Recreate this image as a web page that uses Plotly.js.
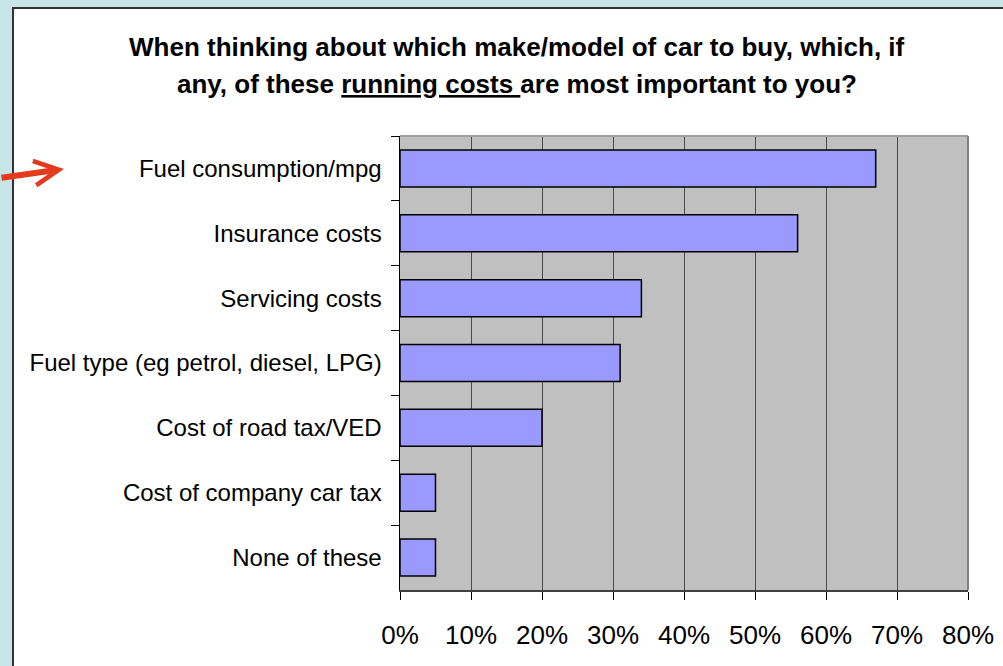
<!DOCTYPE html>
<html>
<head>
<meta charset="utf-8">
<script src="https://cdn.plot.ly/plotly-3.0.1.min.js"></script>
<style>
  html, body { margin: 0; padding: 0; background: #c8e6e8; width: 1003px; height: 666px; overflow: hidden; }
  #frame { position: absolute; left: 12px; top: 7px; width: 1000px; height: 700px; background: #ffffff; border: 2px solid #333333; }
  #chart { position: absolute; left: 0; top: 0; width: 1003px; height: 666px; }
</style>
</head>
<body>
<div id="frame"></div>
<div id="chart"></div>
<script>
const categories = [
  "Fuel consumption/mpg",
  "Insurance costs",
  "Servicing costs",
  "Fuel type (eg petrol, diesel, LPG)",
  "Cost of road tax/VED",
  "Cost of company car tax",
  "None of these"
];
const values = [0.67, 0.56, 0.34, 0.31, 0.20, 0.05, 0.05];
const titleLine1 = "When thinking about which make/model of car to buy, which, if";
const titleLine2 = "any, of these <u>running costs </u>are most important to you?";

const font = "Liberation Sans, Arial, Helvetica, sans-serif";

const trace = {
  type: "bar",
  orientation: "h",
  y: categories,
  x: values,
  marker: { color: "#9999ff", line: { color: "#000000", width: 1.5 } },
  hoverinfo: "skip"
};

const layout = {
  width: 1003,
  height: 666,
  margin: { l: 400, r: 35, t: 136, b: 76, pad: 0 },
  paper_bgcolor: "rgba(0,0,0,0)",
  plot_bgcolor: "#c0c0c0",
  showlegend: false,
  bargap: 0.43,
  font: { family: font, color: "#000000" },
  xaxis: {
    range: [0, 0.8],
    dtick: 0.1,
    tick0: 0,
    tickformat: ".0%",
    showgrid: true,
    gridcolor: "#4a4a4a",
    gridwidth: 1,
    zeroline: false,
    showline: true,
    linecolor: "#404040",
    linewidth: 2,
    ticks: "outside",
    ticklen: 8,
    tickcolor: "#000000",
    tickwidth: 1,
    ticklabelstandoff: 13,
    tickfont: { family: font, size: 26, color: "#000000" }
  },
  yaxis: {
    type: "category",
    categoryorder: "array",
    categoryarray: categories,
    autorange: "reversed",
    tickson: "boundaries",
    showgrid: false,
    zeroline: false,
    showline: true,
    linecolor: "#000000",
    linewidth: 1.5,
    ticks: "outside",
    ticklen: 8,
    tickcolor: "#000000",
    tickwidth: 1,
    ticklabelstandoff: 12,
    tickfont: { family: font, size: 24, color: "#000000" }
  },
  shapes: [
    { type: "line", xref: "paper", yref: "paper", x0: 0, x1: 1, y0: 1, y1: 1, line: { color: "#a0a0a0", width: 2 }, layer: "above" },
    { type: "line", xref: "paper", yref: "paper", x0: 1, x1: 1, y0: 0, y1: 1, line: { color: "#808080", width: 2 }, layer: "above" }
  ],
  annotations: [
    { xref: "paper", yref: "paper", x: (517 - 400) / 568, y: (590 - 47) / 454, xanchor: "center", yanchor: "middle",
      text: "<b>" + titleLine1 + "</b>", showarrow: false, font: { family: font, size: 26, color: "#000000" } },
    { xref: "paper", yref: "paper", x: (517 - 400) / 568, y: (590 - 84) / 454, xanchor: "center", yanchor: "middle",
      text: "<b>" + titleLine2 + "</b>", showarrow: false, font: { family: font, size: 26, color: "#000000" } },
    { xref: "paper", yref: "paper", x: (64 - 400) / 568, y: (590 - 169) / 454, text: "",
      showarrow: true, arrowhead: 5, arrowsize: 0.8, arrowwidth: 6, arrowcolor: "#e53a1e",
      ax: -68, ay: 9, standoff: 0 }
  ]
};

Plotly.newPlot("chart", [trace], layout, { displayModeBar: false, staticPlot: true });
</script>
</body>
</html>
